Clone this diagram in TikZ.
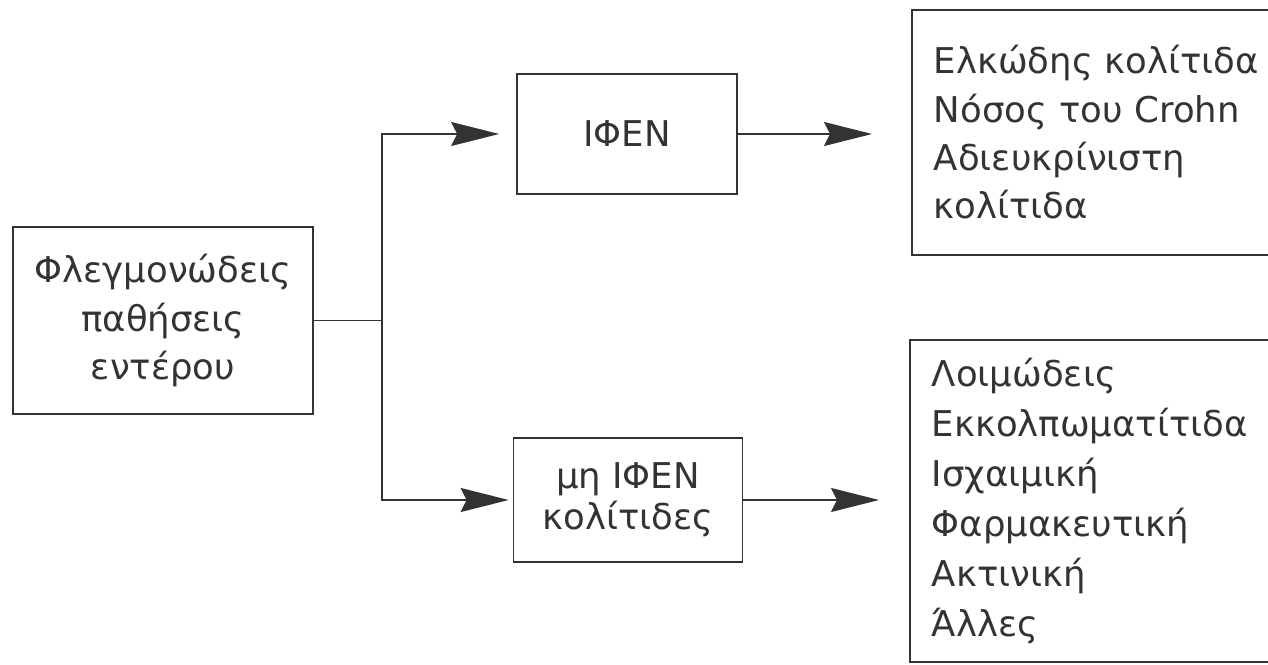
\documentclass[tikz,border=0pt]{standalone}
\usepackage{fontspec}
\setmainfont{DejaVu Sans}
\usepackage{xcolor}
\usetikzlibrary{arrows.meta,positioning,calc}
\definecolor{ink}{HTML}{333333}

\begin{document}
\begin{tikzpicture}[
  x=0.02cm, y=-0.02cm,
  font=\fontsize{20.2pt}{27.5pt}\selectfont,
  text=ink,
  block/.style={draw=ink, line width=1pt, align=center, inner sep=0pt},
  listblock/.style={draw=ink, line width=1pt, align=left, anchor=west, inner xsep=0.44cm, inner ysep=0pt, text width=6.92cm, minimum width=7.8cm},
  wire/.style={-{Stealth[length=0.96cm, width=0.48cm, inset=0.12cm]}, draw=ink, line width=1pt},
  bus/.style={draw=ink, line width=1pt}
]
\useasboundingbox (0,0) rectangle (1268,665);

\node[block, minimum width=6cm, minimum height=3.74cm] (infl) at (163,320.5) {Φλεγμονώδεις\\παθήσεις\\εντέρου};
\node[block, minimum width=4.4cm, minimum height=2.4cm] (ifen) at (627,134) {ΙΦΕΝ};
\node[block, minimum width=4.58cm, minimum height=2.48cm, font=\fontsize{20.2pt}{23.3pt}\selectfont] (nonifen) at (628,500) {μη ΙΦΕΝ\\κολίτιδες};
\node[listblock, minimum height=4.9cm] (ibd) at (911,132.5) {Ελκώδης κολίτιδα\\Νόσος του Crohn\\Αδιευκρίνιστη\\κολίτιδα};
\node[listblock, minimum height=6.44cm, font=\fontsize{20.2pt}{28.4pt}\selectfont] (other) at (909,501) {Λοιμώδεις\\Εκκολπωματίτιδα\\Ισχαιμική\\Φαρμακευτική\\Ακτινική\\Άλλες};

\coordinate (fork) at (382,320.5);

\draw[bus] (infl.east) -- (fork);
\draw[wire, shorten >=0.34cm] (fork) |- (ifen.west);
\draw[wire, shorten >=0.08cm] (fork) |- (nonifen.west);
\draw[wire, shorten >=0.78cm] (ifen.east) -- (ifen.east -| ibd.west);
\draw[wire, shorten >=0.6cm] (nonifen.east) -- (nonifen.east -| other.west);

\end{tikzpicture}
\end{document}
